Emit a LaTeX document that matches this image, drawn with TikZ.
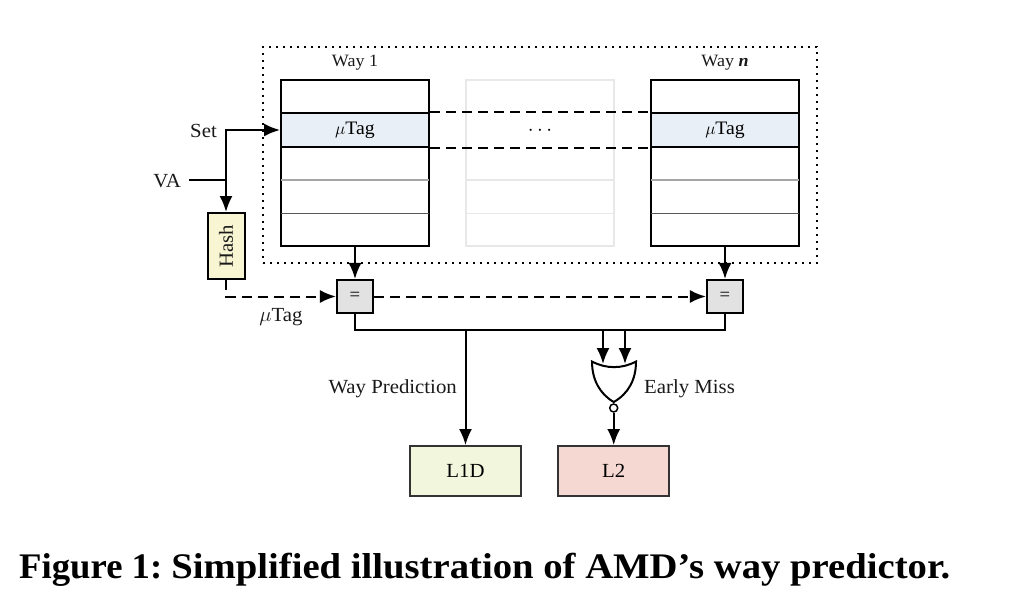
\documentclass[tikz,border=0pt]{standalone}
\usepackage{fontspec}
\setmainfont[FakeStretch=1.04]{Liberation Serif}
\newfontfamily\capfont[FakeStretch=1.075]{Liberation Serif}
\newfontfamily\figfont[FakeStretch=1.02]{Liberation Serif}
\usetikzlibrary{arrows.meta,positioning,calc}
\definecolor{tagblue}{HTML}{E8EFF6}
\definecolor{hashy}{HTML}{F8F6D2}
\definecolor{eqgrey}{HTML}{E2E2E2}
\definecolor{lonegreen}{HTML}{F2F6DC}
\definecolor{ltwored}{HTML}{F6D8D3}
\tikzset{
  lbl/.style={inner sep=0pt,font=\fontsize{20}{22}\selectfont,text=black!90},
  small/.style={inner sep=0pt,font=\fontsize{17.3}{18}\selectfont,text=black!90},
  wayS/.style={draw=black,line width=2pt,minimum width=148pt,minimum height=166pt,inner sep=0pt},
  ghostS/.style={draw=black!9,line width=2pt,minimum width=148pt,minimum height=166pt,inner sep=0pt},
  tagS/.style={draw=black,fill=tagblue,line width=2pt,minimum width=148pt,minimum height=33pt,inner sep=0pt,font=\fontsize{19}{20}\selectfont},
  eqS/.style={draw=black,fill=eqgrey,line width=2.1pt,minimum width=36pt,minimum height=33pt,inner sep=0pt,font=\fontsize{18}{18}\selectfont},
  cacheS/.style={draw=black!80,line width=1.9pt,minimum width=111pt,minimum height=50pt,inner sep=0pt,font=\fontsize{20}{20}\selectfont},
  wire/.style={line width=2pt,-{Latex[length=16pt,width=13pt]}},
  plainw/.style={line width=2pt},
  dashw/.style={line width=2pt,dash pattern=on 10pt off 6pt},
  dashar/.style={dashw,-{Latex[length=16pt,width=13pt]}},
}
\begin{document}
\begin{tikzpicture}[x=1pt,y=-1pt]
\useasboundingbox (0,0) rectangle (1024,615);
% enclosure
\node[draw=black,line width=2pt,dash pattern=on 2pt off 5pt,minimum width=554pt,minimum height=216pt,inner sep=0pt] (enc) at (540,155) {};
% ways
\node[wayS] (wayone) at (355,163) {};
\node[ghostS] (ghost) at (540,163) {};
\node[wayS] (wayn) at (725,163) {};
\foreach \xa/\xb in {281/429,651/799}{
  \draw[black!35,line width=1.7pt] (\xa,180) -- (\xb,180);
  \draw[black!65,line width=1.2pt] (\xa,213.5) -- (\xb,213.5);
}
\draw[black!9,line width=1.4pt] (466,180) -- (614,180);
\draw[black!9,line width=1.2pt] (466,213.5) -- (614,213.5);
\node[tagS] (tagone) at (355,130) {$\mu$Tag};
\node[tagS] (tagn) at (725,130) {$\mu$Tag};
\node[inner sep=0pt,font=\fontsize{22}{22}\selectfont] (dots) at (540,131) {$\cdots$};
\draw[dashw] (tagone.north east) -- (tagn.north west);
\draw[dashw] (tagone.south east) -- (tagn.south west);
\node[small,anchor=base] (wayonelbl) at (355,67) {Way 1};
\node[small,anchor=base] (waynlbl) at (725,67) {Way \textbf{\textit{n}}};
% left side
\node[lbl,anchor=base east] (set) at (217,137) {Set};
\node[lbl,anchor=base east] (va) at (181,187) {VA};
\node[draw=black,fill=hashy,line width=2pt,minimum width=37pt,minimum height=66pt,inner sep=0pt] (hash) at (226,246) {};
\node[lbl,rotate=90] (hashlbl) at (hash.center) {Hash};
\coordinate (jn) at (226,180);
\draw[plainw] (189,180) -- (jn);
\draw[wire] (jn) -- (hash.north);
\draw[wire] (jn) -- (226,130) -- (tagone.west);
% comparators
\node[eqS] (eqone) at (355,296.5) {=};
\node[eqS] (eqn) at (725,296.5) {=};
\draw[wire] (wayone.south) -- (eqone.north);
\draw[wire] (wayn.south) -- (eqn.north);
\draw[dashar] (hash.south) -- (226,296.5) -- (eqone.west);
\draw[dashar] (eqone.east) -- (eqn.west);
\node[lbl,anchor=base] (tagl) at (281,321) {$\mu$Tag};
% bus
\coordinate (busl) at (355,329.5);
\coordinate (busr) at (725,329.5);
\draw[plainw] (eqone.south) -- (busl) -- (busr) -- (eqn.south);
% targets
\node[cacheS,fill=lonegreen] (lid) at (465.5,471) {L1D};
\node[cacheS,fill=ltwored] (ltwo) at (613.7,471) {L2};
\draw[wire] (lid.north |- busl) -- (lid.north);
% NOR gate
\coordinate (gtl) at (592,361.5);
\coordinate (gtr) at (636,361.5);
\coordinate (gtb) at (613.7,402);
\draw[line width=2pt,fill=white] (gtl) .. controls (606,369) and (622,369) .. (gtr)
   .. controls (636,380) and (628,394) .. (gtb)
   .. controls (600,394) and (592,380) .. (gtl) -- cycle;
\node[circle,draw=black,fill=white,line width=1.5pt,minimum size=8pt,inner sep=0pt] (bub) at (613.7,408) {};
\draw[wire] (bub.south) -- (ltwo.north);
\coordinate (ina) at (603,364);
\coordinate (inb) at (625,364);
\draw[wire] (ina |- busl) -- (ina);
\draw[wire] (inb |- busl) -- (inb);
\node[lbl,anchor=base east] (wp) at (457,393) {Way Prediction};
\node[lbl,anchor=base west] (em) at (644,393) {Early Miss};
% caption
\node[anchor=base west,inner sep=0pt,font=\capfont\fontsize{36}{40}\selectfont\bfseries] (cap) at (19,578) {{\figfont\bfseries Figure 1:}\hspace{9pt}Simplified illustration of AMD’s way predictor.};
\end{tikzpicture}
\end{document}
